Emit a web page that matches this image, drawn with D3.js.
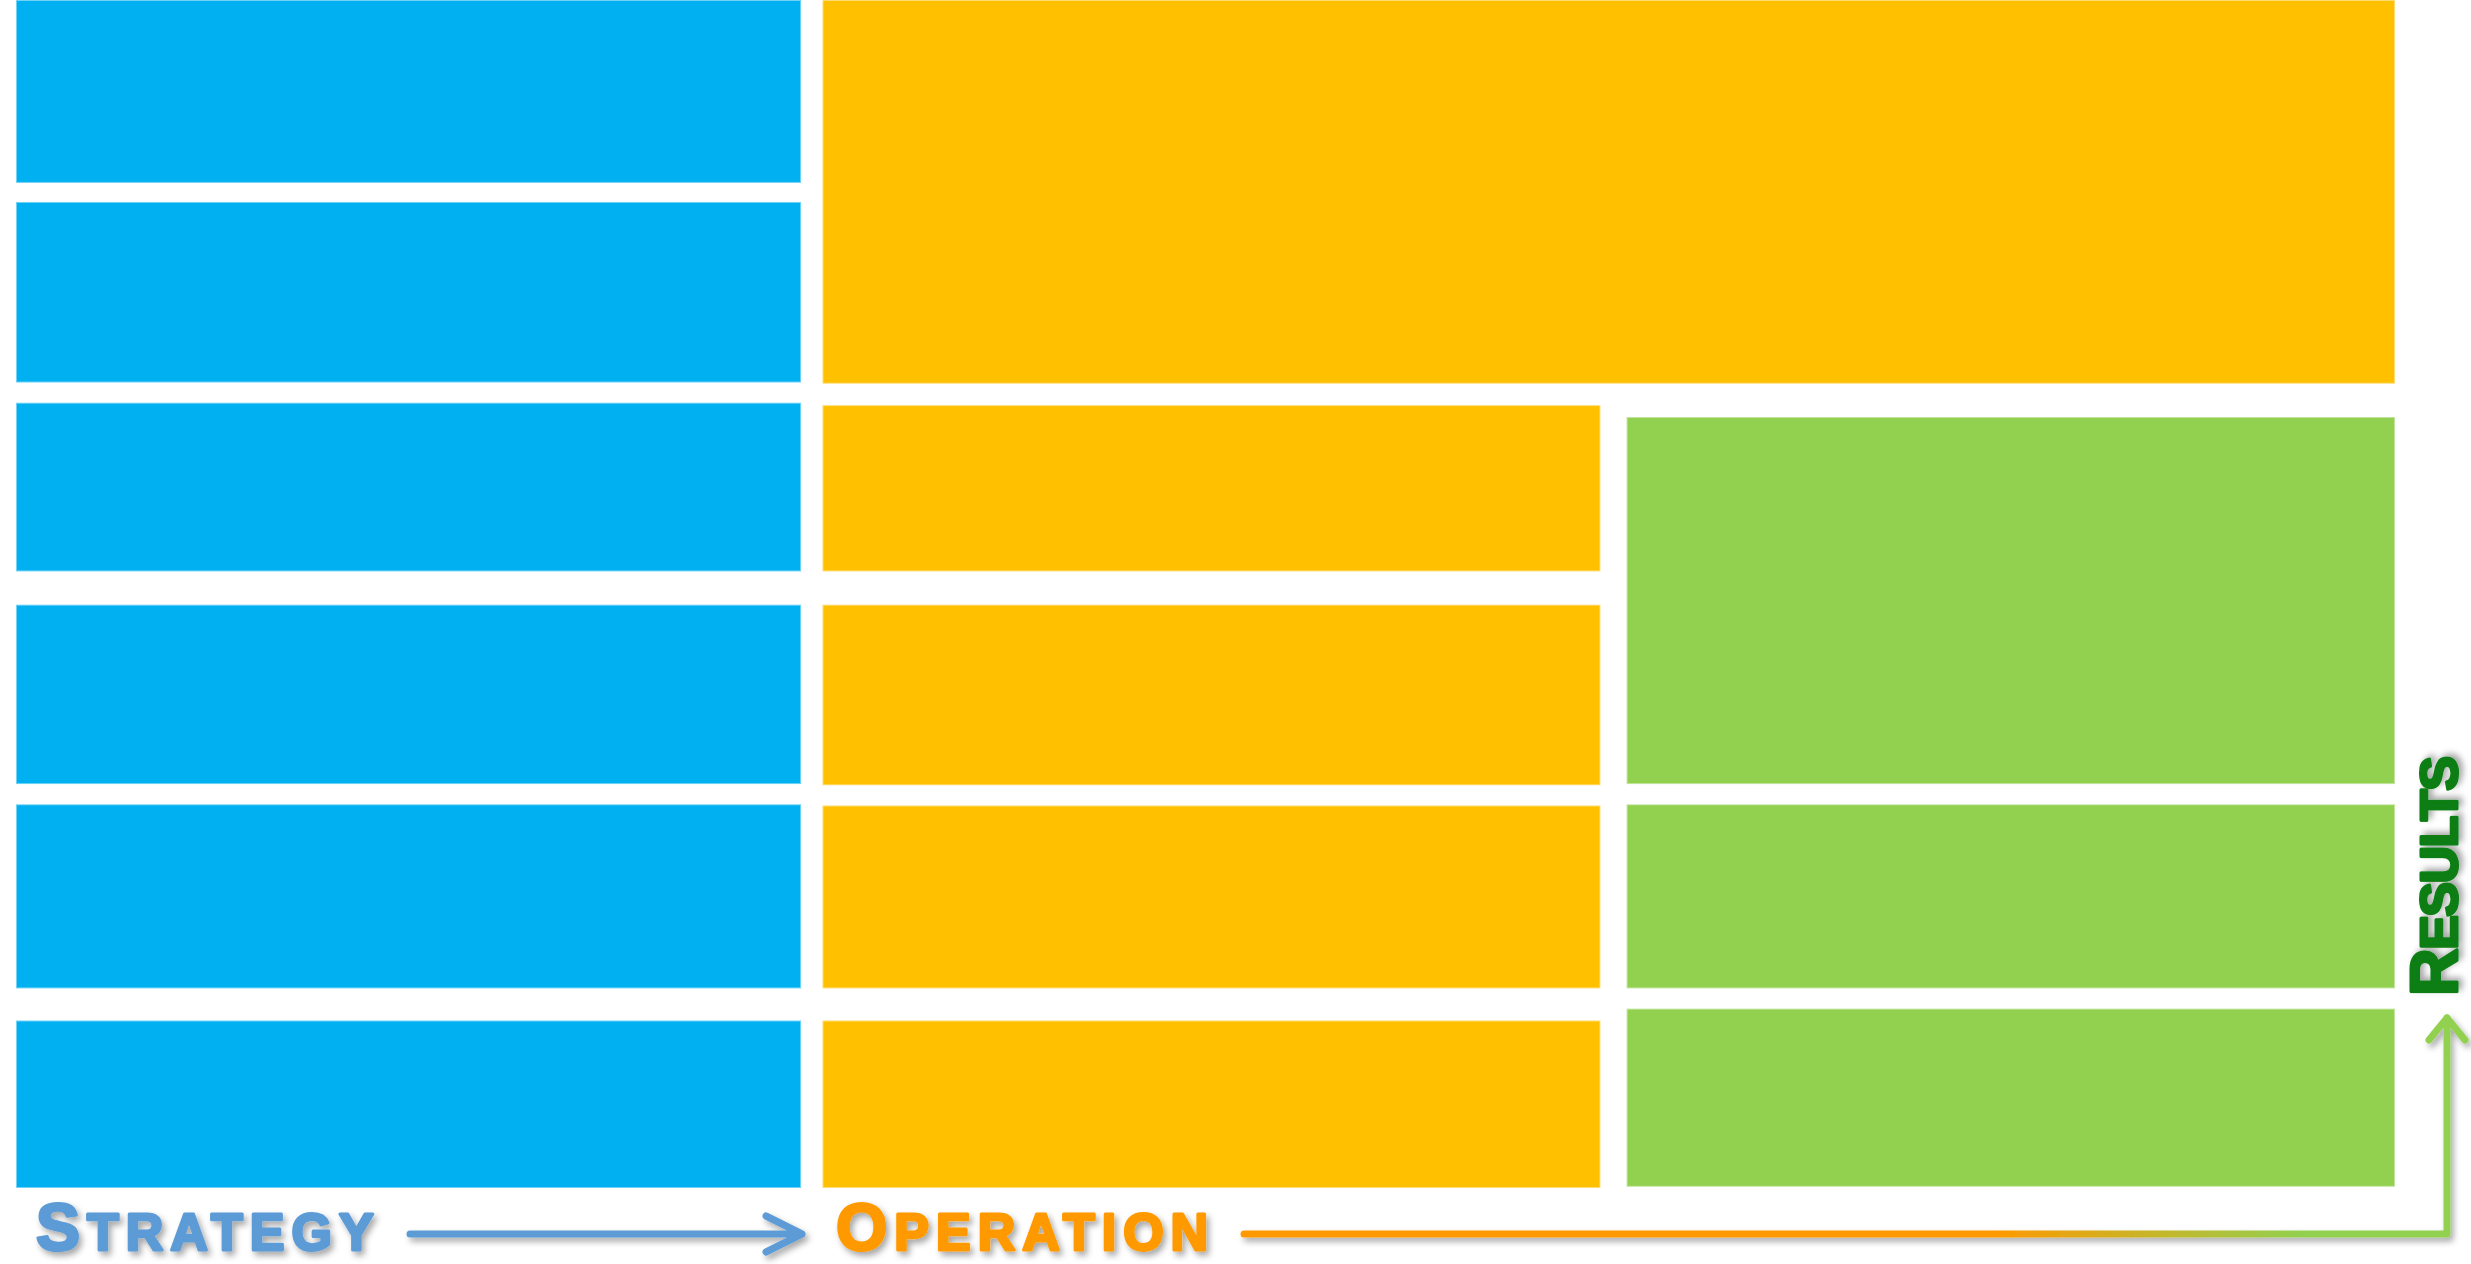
<!DOCTYPE html>
<html>
<head>
<meta charset="utf-8">
<script src="https://cdn.jsdelivr.net/npm/d3@7"></script>
<style>
    html, body { margin: 0; padding: 0; background: #fff; }
    svg { display: block; }
    text { font-family: "Liberation Sans", Arial, sans-serif; font-weight: bold; }
</style>
</head>
<body>
<svg id="chart"></svg>
<script>
/*
    strategy / operation / results block diagram
*/

// Row extents, in percent of the block area height
const strategyRows = [[0, 15.4], [17.0, 32.2], [33.9, 48.1], [50.9, 66.0], [67.7, 83.2], [85.9, 100]];
const operationTopRow = [[0, 32.3]];
const operationRows = [[34.1, 48.1], [50.9, 66.1], [67.8, 83.2], [85.9, 100]];
const resultRows = [[35.1, 66.0], [67.7, 83.2], [84.9, 99.9]];

// Column extents, in percent of the block area width
const strategyCol = [0, 33.0];
const operationWideCol = [33.9, 100];
const operationCol = [33.9, 66.6];
const resultCol = [67.7, 100];

const stageLabels = ["Strategy", "Operation", "Results"];
const stageColors = ["#5b9bd5", "#ff9900", "#0a7d12"];
const blockColors = ["#00b0f0", "#ffc000", "#92d050"];

const width = 2471,
    height = 1264;

const svg = d3.select("#chart").attr("width", width).attr("height", height);
const defs = svg.append("defs");

const x = d3.scaleLinear().domain([0, 100]).range([16, 2395]);
const y = d3.scaleLinear().domain([0, 100]).range([0, 1188]);

// Build the block table from the arrays
const blocks = [];
const addBlocks = (rows, col, stage) => {
    rows.forEach(r => blocks.push({ x0: col[0], x1: col[1], y0: r[0], y1: r[1], stage }));
};
addBlocks(strategyRows, strategyCol, 0);
addBlocks(operationTopRow, operationWideCol, 1);
addBlocks(operationRows, operationCol, 1);
addBlocks(resultRows, resultCol, 2);

svg.append("g")
    .selectAll("rect")
    .data(blocks)
    .join("rect")
    .attr("x", d => x(d.x0))
    .attr("y", d => y(d.y0))
    .attr("width", d => x(d.x1) - x(d.x0))
    .attr("height", d => y(d.y1) - y(d.y0))
    .attr("fill", d => blockColors[d.stage])
    .attr("stroke", "rgba(255,255,255,0.45)")
    .attr("stroke-width", 2);

// Soft drop shadow for labels and arrows
const shadow = defs.append("filter")
    .attr("id", "shadow")
    .attr("x", "-20%")
    .attr("y", "-40%")
    .attr("width", "140%")
    .attr("height", "180%");
shadow.append("feDropShadow")
    .attr("dx", 3)
    .attr("dy", 4)
    .attr("stdDeviation", 3)
    .attr("flood-color", "#000")
    .attr("flood-opacity", 0.35);

// Orange -> green gradient for the last connector
const grad = defs.append("linearGradient")
    .attr("id", "opToRes")
    .attr("gradientUnits", "userSpaceOnUse")
    .attr("x1", 1242).attr("y1", 0)
    .attr("x2", 2450).attr("y2", 0);
grad.append("stop").attr("offset", "0.62").attr("stop-color", stageColors[1]);
grad.append("stop").attr("offset", "0.88").attr("stop-color", blockColors[2]);

const lineY = 1234;
const bigSize = 66,
    smallSize = 52;

function drawLabel(label, color, spacing, transform) {
    // stroke in the same colour makes the glyphs heavier, like the original
    const t = svg.append("text")
        .attr("transform", transform)
        .attr("fill", color)
        .attr("stroke", color)
        .attr("stroke-width", 3)
        .attr("stroke-linejoin", "round")
        .attr("letter-spacing", spacing)
        .attr("filter", "url(#shadow)");
    const up = label.toUpperCase();
    t.append("tspan").attr("font-size", bigSize).text(up[0]);
    t.append("tspan").attr("font-size", smallSize).text(up.slice(1));
    return t;
}

drawLabel(stageLabels[0], stageColors[0], 7, "translate(36,1250)");
drawLabel(stageLabels[1], stageColors[1], 7, "translate(836,1250)");
drawLabel(stageLabels[2], stageColors[2], -1.5, "translate(2457,996) rotate(-90)");

const arrows = svg.append("g")
    .attr("fill", "none")
    .attr("stroke-width", 7)
    .attr("stroke-linecap", "round")
    .attr("stroke-linejoin", "round")
    .attr("filter", "url(#shadow)");

// Strategy -> Operation
arrows.append("path")
    .attr("stroke", stageColors[0])
    .attr("d", `M410,${lineY}H802M766,${lineY - 18}L802,${lineY}L766,${lineY + 18}`);

// Operation -> Results
arrows.append("path")
    .attr("stroke", "url(#opToRes)")
    .attr("d", `M1244,${lineY}H2447V1018`);
arrows.append("path")
    .attr("stroke", blockColors[2])
    .attr("d", "M2429,1040L2447,1018L2465,1040");
</script>
</body>
</html>
